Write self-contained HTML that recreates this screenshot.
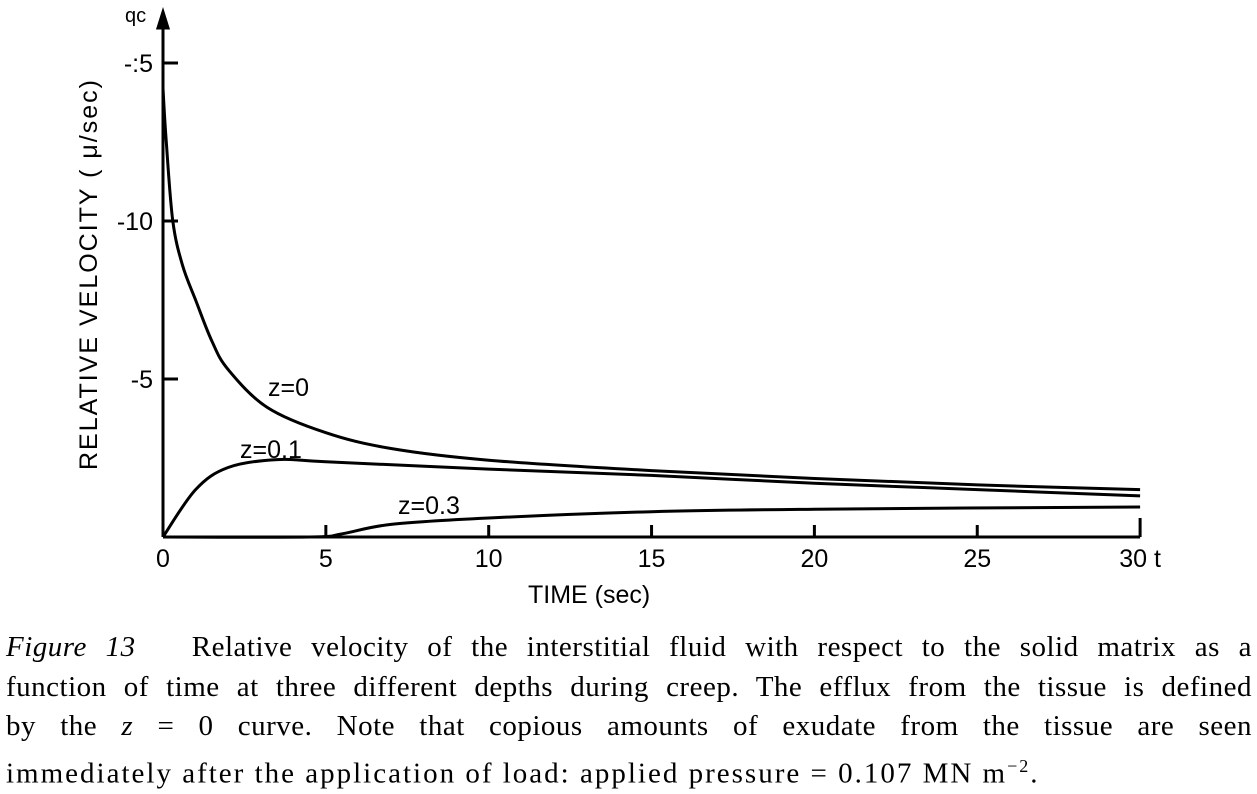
<!DOCTYPE html>
<html><head><meta charset="utf-8"><style>
body{margin:0;width:1257px;height:786px;background:#fff;overflow:hidden;position:relative;font-family:"Liberation Sans",sans-serif}
.cap{position:absolute;left:6px;width:1246px;font-family:"Liberation Serif",serif;font-size:29px;letter-spacing:0.5px;line-height:39.5px;top:628px;color:#000}
.cap span.l{display:block;text-align:justify;text-align-last:justify;height:39.5px;white-space:nowrap;overflow:visible}
</style></head><body>
<svg width="1257" height="620" style="position:absolute;left:0;top:0" font-family="Liberation Sans, sans-serif">
<g id="axes" stroke="#000" stroke-width="3" fill="none"></g>
<g id="marks" stroke="#000" stroke-width="3" fill="none"></g>
<g id="labels" font-size="25" fill="#000"></g>
</svg>
<div class="cap">
<span class="l"><i>Figure 13</i>&nbsp;&nbsp; Relative velocity of the interstitial fluid with respect to the solid matrix as a</span>
<span class="l">function of time at three different depths during creep. The efflux from the tissue is defined</span>
<span class="l">by the <i>z</i> = 0 curve. Note that copious amounts of exudate from the tissue are seen</span>
<span class="l" style="text-align-last:left;letter-spacing:2px">immediately after the application of load: applied pressure = 0.107 MN m<sup style="font-size:18px">−2</sup>.</span>
</div>
<script>
const xTicks=[0,5,10,15,20,25,30];
const yTicks=[5,10,15];
const yTickLabels=["-5","-10","-:5"];
const tZ0=[0,0.1,0.3,0.6,1,1.5,2,3.2,5,7,10,15,20,25,30];
const vZ0=[14.2,12.5,10,8.6,7.5,6.2,5.3,4.1,3.3,2.8,2.43,2.1,1.85,1.65,1.5];
const tZ1=[0,1,2,3.5,5,10,15,20,25,30];
const vZ1=[0,1.5,2.2,2.45,2.38,2.15,1.95,1.7,1.5,1.3];
const tZ3=[0,4.5,5.5,7,10,15,20,30];
const vZ3=[0,0,0.1,0.4,0.6,0.8,0.88,0.95];
const X=t=>163+t*32.57, Y=v=>537-v*31.6;
const NS="http://www.w3.org/2000/svg";
function mk(tag,attrs,parent){const e=document.createElementNS(NS,tag);for(const k in attrs)e.setAttribute(k,attrs[k]);document.getElementById(parent).appendChild(e);return e;}
let e=mk('line',{x1:X(0),y1:537,x2:X(30),y2:537},'axes');

e=mk('line',{x1:X(0),y1:537,x2:X(0),y2:18},'axes');

e=mk('path',{d:`M${X(0)-5} 28 L${X(0)} 12 L${X(0)+5} 28 Z`,fill:'#000'},'axes');

xTicks.forEach(t=>{
 const l=mk('line',{x1:X(t),y1:537,x2:X(t),y2:t===30?518:525},'axes');
 
 const tx=mk('text',{x:X(t),y:567,'text-anchor':'middle'},'labels');tx.textContent=t===30?'30 t':String(t);
 
});
yTicks.forEach((v,i)=>{
 const l=mk('line',{x1:X(0),y1:Y(v),x2:X(0)+15,y2:Y(v)},'axes');
 
 const tx=mk('text',{x:X(0)-10,y:Y(v)+9,'text-anchor':'end'},'labels');tx.textContent=yTickLabels[i];
 
});
function series(ts,vs,name){
 const P=ts.map((t,i)=>[X(t),Y(vs[i])]);
 let d='M'+P[0][0].toFixed(1)+' '+P[0][1].toFixed(1);
 for(let i=0;i<P.length-1;i++){
  const p0=P[Math.max(i-1,0)],p1=P[i],p2=P[i+1],p3=P[Math.min(i+2,P.length-1)];
  const c1=[p1[0]+(p2[0]-p0[0])/6,p1[1]+(p2[1]-p0[1])/6];
  const c2=[p2[0]-(p3[0]-p1[0])/6,p2[1]-(p3[1]-p1[1])/6];
  d+=` C${c1[0].toFixed(1)} ${c1[1].toFixed(1)} ${c2[0].toFixed(1)} ${c2[1].toFixed(1)} ${p2[0].toFixed(1)} ${p2[1].toFixed(1)}`;
 }
 const p=mk('path',{d:d,'stroke-linejoin':'round'},'marks');
 
}
series(tZ0,vZ0,'curve-z0');series(tZ1,vZ1,'curve-z0-1');series(tZ3,vZ3,'curve-z0-3');
function label(txt,x,y,name,extra){const t=mk('text',Object.assign({x:x,y:y},extra||{}),'labels');t.textContent=txt;
 return t;}
label('z=0',268,396,'label-z0');
label('z=0.1',240,458,'label-z0-1');
label('z=0.3',398,514,'label-z0-3');
label('TIME  (sec)',528,603,'x-axis-title');
label('qc',125,22,'y-axis-symbol',{'font-size':'20'});
label('RELATIVE  VELOCITY ( μ/sec)',97,470,'y-axis-title',{transform:'rotate(-90 97 470)','font-size':'25','letter-spacing':'2'});
</script>
</body></html>
